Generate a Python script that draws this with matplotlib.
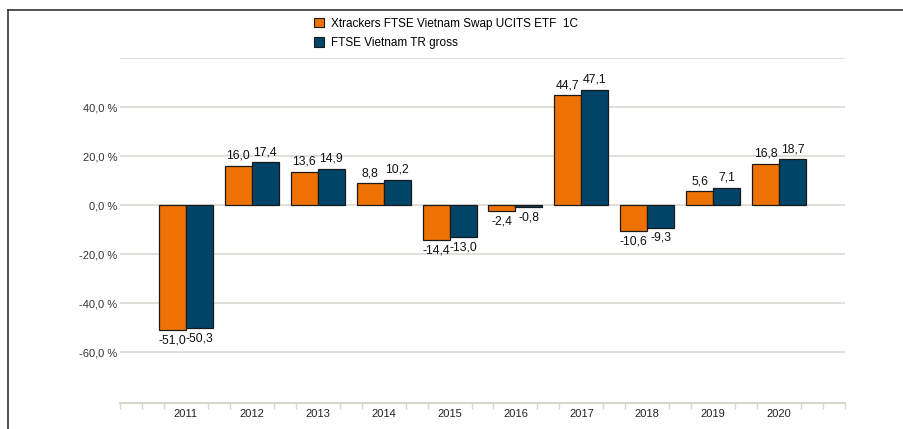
import matplotlib.pyplot as plt
import numpy as np
from matplotlib.lines import Line2D
from matplotlib.patches import Patch

plt.rcParams['font.family'] = ['Liberation Sans', 'DejaVu Sans']

years = [2011, 2012, 2013, 2014, 2015, 2016, 2017, 2018, 2019, 2020]
etf = [-51.0, 16.0, 13.6, 8.8, -14.4, -2.4, 44.7, -10.6, 5.6, 16.8]
index = [-50.3, 17.4, 14.9, 10.2, -13.0, -0.8, 47.1, -9.3, 7.1, 18.7]
series_names = ['Xtrackers FTSE Vietnam Swap UCITS ETF  1C', 'FTSE Vietnam TR gross']
colors = ['#ee7203', '#004468']

W, H = 904, 429
fig = plt.figure(figsize=(W / 100, H / 100), dpi=100)
ax = fig.add_axes([120 / W, (H - 403) / H, (845 - 120) / W, (403 - 58) / H])

x = np.array(years, dtype=float)
bw = 0.41
b1 = ax.bar(x - bw / 2, etf, bw, color=colors[0], edgecolor='#1a1a1a', linewidth=0.9, zorder=3)
b2 = ax.bar(x + bw / 2, index, bw, color=colors[1], edgecolor='#1a1a1a', linewidth=0.9, zorder=3)

# Wertebeschriftung
for bars in (b1, b2):
    for bar in bars:
        v = bar.get_height()
        cx = bar.get_x() + bar.get_width() / 2
        txt = f'{v:.1f}'.replace('.', ',')
        off = 3 if v >= 0 else -3
        ax.annotate(txt, (cx, v), xytext=(0, off), textcoords='offset points',
                    ha='center', va='bottom' if v >= 0 else 'top',
                    fontsize=8.8, color='#111111', fontweight='medium')

ax.set_xlim(2010, 2021)
ax.set_ylim(-80.8, 60)

yt = [-60, -40, -20, 0, 20, 40, 60]
ax.set_yticks(yt)
ax.set_yticklabels([f'{t:.1f} %'.replace('.', ',') if t < 60 else '' for t in yt])
ax.yaxis.grid(True, color='#dcd9d2', linewidth=1.2, zorder=0)
ax.tick_params(axis='y', length=0, pad=2, labelsize=8, labelcolor='#333333')

ax.set_xticks(years)
ax.set_xticklabels([str(y) for y in years])
minor = [2010 + k / 3 for k in range(34) if k % 3 != 0 or k in (0, 33)]
ax.set_xticks(minor, minor=True)
ax.tick_params(axis='x', which='major', length=0, pad=4, labelsize=8, labelcolor='#222222')
ax.tick_params(axis='x', which='minor', length=4, width=1, color='#d9d6cc', direction='out')

for s in ['top', 'right', 'left']:
    ax.spines[s].set_visible(False)
ax.spines['bottom'].set_color('#d9d6cc')
ax.spines['bottom'].set_linewidth(1.5)
ax.set_axisbelow(True)

# Legende
handles = [Patch(facecolor=c, edgecolor='#1a1a1a', linewidth=0.8) for c in colors]
fig.legend(handles, series_names, loc='upper left', bbox_to_anchor=(303 / W, 1 - 7 / H),
           frameon=False, fontsize=8.5, handlelength=0.9, handleheight=0.9,
           handletextpad=0.6, labelspacing=0.6)

# Rahmen oben und links
fig.add_artist(Line2D([8 / W, 1], [1 - 10 / H, 1 - 10 / H], color='#333333', linewidth=1.2))
fig.add_artist(Line2D([8 / W, 8 / W], [0, 1 - 10 / H], color='#333333', linewidth=1.2))

fig.savefig('out.png', dpi=100)
